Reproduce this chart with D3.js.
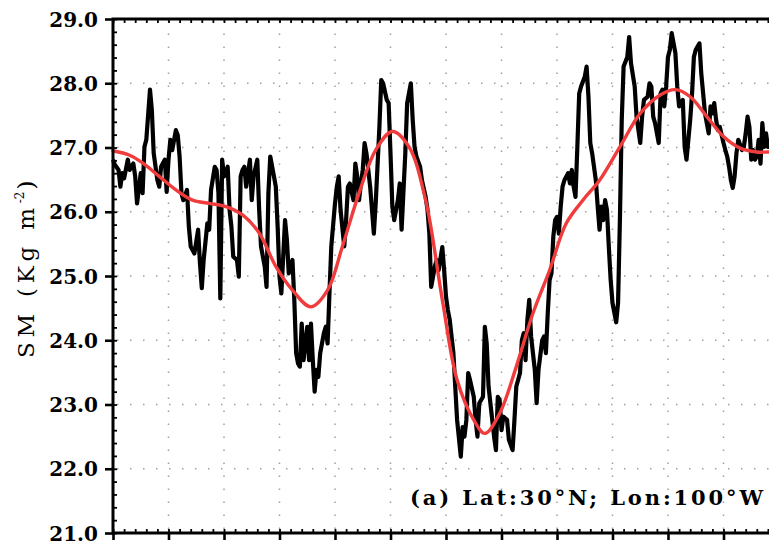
<!DOCTYPE html>
<html><head><meta charset="utf-8">
<script src="https://cdn.jsdelivr.net/npm/d3@7"></script>
<style>html,body{margin:0;padding:0;background:#fff;overflow:hidden}</style>
</head><body>
<svg id="c" width="769" height="548"></svg>
<script>
// time in months from the start of the record
const months = [
0,1,3,4,5,6,8,9,11,12,
13,15,16,17,18,20,21,22,24,25,
26,28,29,30,31,32,34,35,36,37,
38,40,41,42,44,46,47,48,49,51,
52,53,55,56,57,58,59,60,62,63,
64,65,67,68,69,70,71,72,74,75,
76,78,79,80,82,83,84,85,87,88,
89,90,91,93,94,95,97,98,99,100,
101,102,103,105,106,107,108,109,110,111,
112,114,115,116,117,118,120,121,122,123,
125,126,127,128,130,131,132,133,134,135,
136,137,139,140,141,142,144,145,146,148,
149,150,151,152,154,155,156,158,159,161,
162,163,164,166,167,169,170,171,172,174,
175,176,178,179,180,181,182,184,185,186,
188,189,190,191,192,193,195,196,197,198,
200,201,202,203,205,206,207,208,209,210,
211,213,214,216,217,218,220,221,222,223,
224,225,226,228,229,230,232,233,234,235,
236,237,238,239,240,241,242,243,244,246,
247,248,249,250,251,252,253,255,256,257,
258,259,261,262,263,264,265,266,267,268,
269,270,272,273,274,275,276,278,279,280,
282,283,285,286,287,289,290,291,292,293,
295,296,297,298,299,300,301,302,304,305,
306,307,308,309,310,312,313,314,315,317,
318,319,320,322,323,324,325,326,327,328,
330,331,332,333,334,335,336,337,338,340,
341,342,343,344,345,346,347,348,349,350,
351,352,353,354,356,358,360
];
// soil moisture (Kg m-2)
const sm = [
26.81,26.73,26.65,26.39,26.60,26.52,26.81,26.65,26.75,26.55,
26.13,26.60,26.29,27.01,27.12,27.90,27.58,26.91,26.49,26.39,
26.70,26.81,26.31,26.81,27.12,26.96,27.27,27.19,26.86,26.29,
26.18,26.34,25.77,25.46,25.35,25.72,25.20,24.81,25.25,25.82,
25.72,26.34,26.70,26.65,26.29,24.65,26.81,26.55,26.70,26.03,
25.77,25.30,25.25,24.99,26.55,26.65,26.70,26.39,26.81,26.18,
26.55,26.81,26.03,25.46,25.15,24.83,26.29,26.86,26.55,26.39,
25.77,24.99,24.73,25.87,25.56,25.04,25.25,24.63,23.80,23.64,
23.59,24.26,23.69,24.21,23.69,24.26,23.69,23.20,23.54,23.43,
23.80,24.11,24.21,23.95,24.73,25.46,26.13,26.39,26.55,26.03,
25.46,25.87,26.39,26.44,26.18,26.75,26.55,26.18,26.44,26.65,
27.07,26.91,26.39,26.03,25.66,26.13,27.32,28.05,28.00,27.74,
27.69,26.91,26.08,25.87,26.18,26.44,25.72,26.91,27.69,28.00,
27.43,27.01,26.86,26.70,26.49,26.23,26.03,25.66,24.83,25.15,
25.25,25.09,25.45,25.09,24.68,24.47,24.32,23.80,23.28,22.76,
22.19,22.65,22.50,22.76,23.49,23.38,23.12,22.76,22.50,23.02,
23.12,24.21,23.95,23.28,22.76,22.50,22.29,23.12,23.07,22.60,
22.81,22.76,22.45,22.29,22.76,23.28,23.49,24.00,24.11,23.69,
24.32,24.63,24.06,23.54,23.02,23.54,24.00,24.06,23.80,24.42,
24.94,25.04,25.61,25.87,25.92,25.66,26.08,26.39,26.49,26.60,
26.44,26.65,26.39,26.23,27.01,27.84,27.95,28.10,28.26,27.79,
27.07,26.91,26.49,26.08,25.72,26.08,25.87,26.18,26.03,25.46,
24.94,24.58,24.28,24.58,25.87,27.43,28.26,28.41,28.72,28.31,
27.95,27.48,27.07,27.48,27.74,27.79,28.00,27.95,27.48,27.38,
27.07,27.84,27.90,27.64,27.95,28.41,28.52,28.78,28.47,27.95,
27.64,27.69,27.74,27.01,26.81,27.43,27.84,28.41,28.52,28.62,
28.15,27.84,27.53,27.22,27.64,27.53,27.69,27.43,27.27,27.32,
27.07,26.96,26.86,26.70,26.49,26.37,26.55,26.91,27.12,26.96,
27.01,27.22,27.48,27.32,26.81,26.96,26.81,26.86,27.12,26.75,
27.38,27.01,27.22,27.01,27.15,26.90,27.05
];
// low-frequency (smoothed) component
const smoothMonths = [0,9,16,25,34,43,52,61,70,79,88,97,107,116,124,133,142,151,160,169,178,186,195,201,209,218,227,236,245,254,263,274,285,296,304,312,321,330,339,348,354,360];
const smoothSM = [26.95,26.88,26.76,26.55,26.34,26.18,26.13,26.08,25.95,25.67,25.15,24.78,24.52,24.78,25.46,26.29,26.96,27.25,27.01,26.18,24.63,23.38,22.76,22.55,22.86,23.59,24.42,25.09,25.82,26.18,26.49,27.01,27.53,27.82,27.90,27.79,27.48,27.17,26.99,26.93,26.93,26.93];
const yTicks = [21,22,23,24,25,26,27,28,29];
const xTicks = [0,30,60,90,120,150,180,210,240,270,300,330,360];
const annotation = "(a) Lat:30\u00B0N; Lon:100\u00B0W";

const svg = d3.select("#c");
const L = 113, R = 779, T = 19, B = 533;
const x = d3.scaleLinear().domain([0,360]).range([L,R]);
const y = d3.scaleLinear().domain([21,29]).range([B,T]);

// dotted grid
const grid = svg.append("g").attr("stroke","#a0a0a0").attr("stroke-width",1.5)
  .attr("stroke-dasharray","1.5,11.5").attr("fill","none");
grid.selectAll(".gh").data(yTicks.slice(1,-1)).join("line")
  .attr("x1",L+4).attr("x2",R).attr("y1",d=>y(d)).attr("y2",d=>y(d));
grid.selectAll(".gv").data(xTicks.slice(1,-1)).join("line")
  .attr("y1",B-4).attr("y2",T).attr("x1",d=>x(d)).attr("x2",d=>x(d));

// series
const line = d3.line().x((d,i)=>x(months[i])).y(d=>y(d));
svg.append("path").datum(sm).attr("d",line).attr("fill","none")
  .attr("stroke","#000").attr("stroke-width",4.2).attr("stroke-linejoin","round");
const sline = d3.line().x((d,i)=>x(smoothMonths[i])).y(d=>y(d)).curve(d3.curveCatmullRom.alpha(0.5));
svg.append("path").datum(smoothSM).attr("d",sline).attr("fill","none")
  .attr("stroke","#f03c3c").attr("stroke-width",3.4).attr("stroke-linecap","round");

// axes
function styleAxis(g, w){
  g.select(".domain").remove();
  g.selectAll(".tick line").attr("stroke","#000").attr("stroke-width",w);
}
const fmt = d3.format(".1f");
const yAx = svg.append("g").attr("transform",`translate(${L},0)`)
  .call(d3.axisLeft(y).tickValues(yTicks).tickSize(8).tickPadding(7).tickFormat(fmt));
styleAxis(yAx,2.6);
yAx.selectAll("text").attr("font-family","DejaVu Serif").attr("font-weight","bold")
  .attr("font-size",20).attr("fill","#000").attr("dy","0.36em");
const yMin = svg.append("g").attr("transform",`translate(${L},0)`)
  .call(d3.axisRight(y).tickValues(d3.range(21,29.001,0.2)).tickSize(4).tickFormat(""));
styleAxis(yMin,1.8);
const xAx = svg.append("g").attr("transform",`translate(0,${B})`)
  .call(d3.axisBottom(x).tickValues(xTicks).tickSize(7).tickFormat(""));
styleAxis(xAx,2.6);
const xMin = svg.append("g").attr("transform",`translate(0,${B})`)
  .call(d3.axisTop(x).tickValues(d3.range(0,361,6)).tickSize(4).tickFormat(""));
styleAxis(xMin,1.8);
const tMin = svg.append("g").attr("transform",`translate(0,${T})`)
  .call(d3.axisBottom(x).tickValues(d3.range(0,361,6)).tickSize(4).tickFormat(""));
styleAxis(tMin,1.8);

// frame
svg.append("rect").attr("x",L).attr("y",T).attr("width",R-L).attr("height",B-T)
  .attr("fill","none").attr("stroke","#000").attr("stroke-width",3);

// y label
const yl = svg.append("text").attr("transform",`translate(34,358) rotate(-90)`)
  .attr("text-anchor","start").attr("font-family","DejaVu Serif").attr("font-size",23)
  .attr("fill","#000");
yl.append("tspan").attr("textLength",150).attr("lengthAdjust","spacing").text("SM (Kg m");
yl.append("tspan").attr("font-size",12).attr("dy",-10).text("-2");
yl.append("tspan").attr("dy",10).attr("dx",2).text(")");

// annotation
svg.append("text").attr("x",410).attr("y",505).attr("text-anchor","start")
  .attr("textLength",353).attr("lengthAdjust","spacing")
  .attr("font-family","DejaVu Serif").attr("font-weight","bold").attr("font-size",21)
  .attr("fill","#000").text(annotation);
</script>
</body></html>
